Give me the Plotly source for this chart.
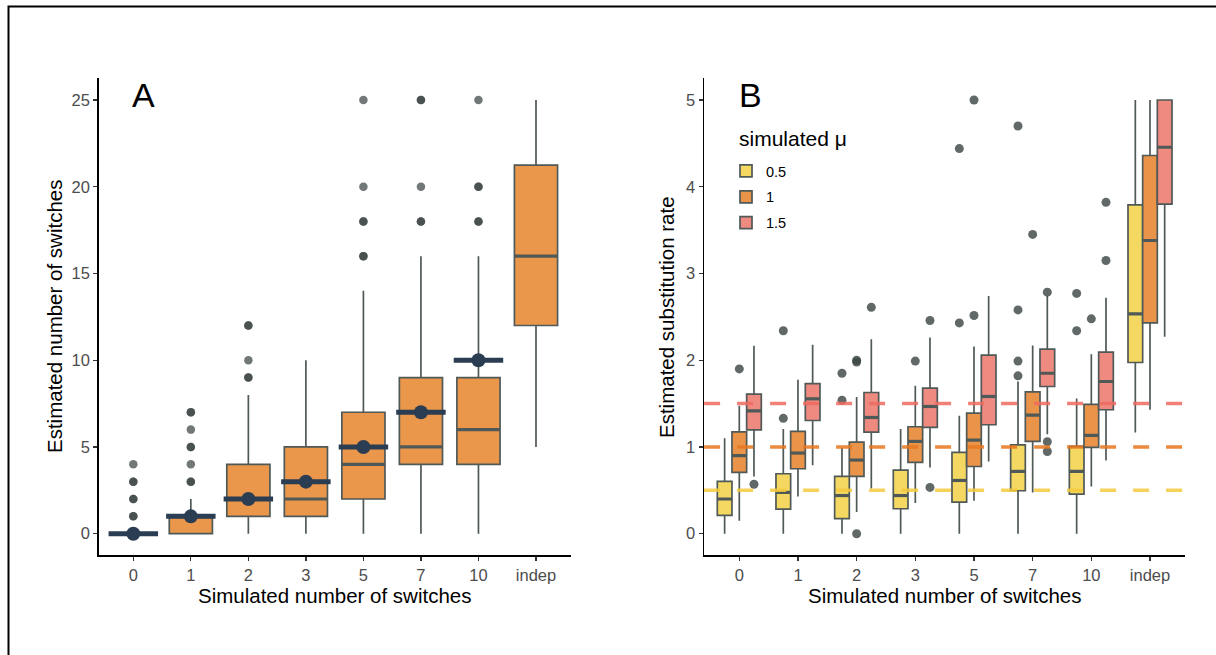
import plotly.graph_objects as go

# ---------------- data ----------------
categories = ["0", "1", "2", "3", "5", "7", "10", "indep"]
true_switches = [0, 1, 2, 3, 5, 7, 10]          # simulated number (navy marks)

# Panel A: estimated number of switches
A_q1 = [0, 0, 1, 1, 2, 4, 4, 12]
A_med = [0, 1, 2, 2, 4, 5, 6, 16]
A_q3 = [0, 1, 4, 5, 7, 9, 9, 21.25]
A_lo = [0, 0, 0, 0, 0, 0, 0, 5]
A_hi = [0, 2, 8, 10, 14, 16, 16, 25]
A_out_cat = [0, 0, 0, 0, 1, 1, 1, 1, 1, 2, 2, 2, 4, 4, 4, 4, 5, 5, 5, 6, 6, 6]
A_out_val = [1, 2, 3, 4, 3, 4, 5, 6, 7, 9, 10, 12, 16, 18, 20, 25, 18, 20, 25, 18, 20, 25]
A_out_n = [2, 2, 2, 1, 2, 1, 2, 1, 2, 2, 1, 2, 2, 2, 1, 1, 2, 1, 2, 2, 2, 1]

# Panel B: estimated substitution rate, by simulated mu
mu_labels = ["0.5", "1", "1.5"]
B_q1 = [
    [0.211, 0.284, 0.173, 0.288, 0.365, 0.495, 0.457, 1.974],
    [0.706, 0.749, 0.660, 0.822, 0.775, 1.064, 0.995, 2.431],
    [1.198, 1.305, 1.170, 1.225, 1.256, 1.697, 1.429, 3.800],
]
B_med = [
    [0.400, 0.476, 0.440, 0.440, 0.614, 0.718, 0.718, 2.535],
    [0.900, 0.930, 0.849, 1.064, 1.079, 1.367, 1.133, 3.380],
    [1.417, 1.555, 1.340, 1.467, 1.582, 1.850, 1.755, 4.455],
]
B_q3 = [
    [0.603, 0.691, 0.660, 0.733, 0.937, 1.025, 1.006, 3.790],
    [1.175, 1.179, 1.056, 1.233, 1.390, 1.636, 1.490, 4.360],
    [1.610, 1.730, 1.628, 1.678, 2.058, 2.128, 2.093, 5.000],
]
B_lo = [
    [0.000, 0.000, 0.000, 0.000, 0.000, 0.000, 0.000, 1.167],
    [0.150, 0.430, 0.250, 0.353, 0.380, 0.476, 0.545, 1.430],
    [0.660, 0.790, 0.520, 0.764, 0.833, 1.148, 0.845, 2.270],
]
B_hi = [
    [1.100, 1.206, 0.987, 1.206, 1.360, 1.755, 1.560, 5.000],
    [1.475, 1.774, 1.575, 1.705, 2.158, 2.170, 2.070, 5.000],
    [2.166, 2.177, 2.243, 2.262, 2.740, 2.740, 2.720, 5.000],
]
B_out_cat = [
    [1, 1, 2, 2, 4, 4, 5, 5, 5, 5, 6, 6],
    [0, 2, 2, 2, 3, 4, 4, 5, 6],
    [0, 2, 3, 3, 5, 5, 5, 6, 6],
]
B_out_val = [
    [1.33, 2.34, 1.54, 1.85, 2.43, 4.44, 1.82, 1.99, 2.58, 4.70, 2.34, 2.77],
    [1.90, 1.98, 2.00, 0.00, 1.99, 2.515, 5.00, 3.45, 2.477],
    [0.57, 2.61, 2.458, 0.534, 2.785, 1.06, 0.948, 3.15, 3.82],
]
true_mu = [0.5, 1.0, 1.5]

# ---------------- styles ----------------
W, H = 1216, 655
FONT = "Liberation Sans, Arial, Helvetica, sans-serif"
EDGE = "#4f5957"
ORANGE = "#ea964b"
NAVY = "#2b3d52"
B_FILL = ["#f5d862", "#ea944a", "#ef8a80"]
B_LINE = ["#f5cb3e", "#e8771f", "#ef6b61"]
B_OFFS = [-0.25, 0.0, 0.25]
BW = 0.25
AW = 0.75

fig = go.Figure()

xpos = list(range(len(categories)))

# ---- Panel A ----
fig.add_trace(go.Box(
    x=xpos, q1=A_q1, median=A_med, q3=A_q3, lowerfence=A_lo, upperfence=A_hi,
    width=AW, fillcolor=ORANGE, line=dict(color=EDGE, width=1.7),
    whiskerwidth=0, boxpoints=False, showlegend=False, hoverinfo="skip",
    xaxis="x", yaxis="y"))

mx, my = [], []
for i, m in enumerate(A_med):
    mx += [i - AW / 2, i + AW / 2, None]
    my += [m, m, None]
fig.add_trace(go.Scatter(x=mx, y=my, mode="lines", line=dict(color=EDGE, width=3.2),
                         showlegend=False, hoverinfo="skip", xaxis="x", yaxis="y"))

ox, oy = [], []
for c, v, n in zip(A_out_cat, A_out_val, A_out_n):
    ox += [c] * n
    oy += [v] * n
fig.add_trace(go.Scatter(x=ox, y=oy, mode="markers",
                         marker=dict(size=8.5, color="rgba(58,68,66,0.72)", line=dict(width=0)),
                         showlegend=False, hoverinfo="skip", xaxis="x", yaxis="y"))

sx, sy = [], []
for i, t in enumerate(true_switches):
    sx += [i - 0.43, i + 0.43, None]
    sy += [t, t, None]
fig.add_trace(go.Scatter(x=sx, y=sy, mode="lines", line=dict(color=NAVY, width=5),
                         showlegend=False, hoverinfo="skip", xaxis="x", yaxis="y"))
fig.add_trace(go.Scatter(x=xpos[:len(true_switches)], y=true_switches, mode="markers",
                         marker=dict(size=14, color=NAVY, line=dict(width=0)),
                         showlegend=False, hoverinfo="skip", xaxis="x", yaxis="y"))

# ---- Panel B ----
for g in range(3):
    px = [i + B_OFFS[g] for i in xpos]
    fig.add_trace(go.Box(
        x=px, q1=B_q1[g], median=B_med[g], q3=B_q3[g], lowerfence=B_lo[g], upperfence=B_hi[g],
        width=BW, fillcolor=B_FILL[g], line=dict(color=EDGE, width=1.7),
        whiskerwidth=0, boxpoints=False, name=mu_labels[g], legendgroup=mu_labels[g],
        showlegend=True, hoverinfo="skip", xaxis="x2", yaxis="y2"))
for g in range(3):
    px = [i + B_OFFS[g] for i in xpos]
    mx, my = [], []
    for p, m in zip(px, B_med[g]):
        mx += [p - BW / 2, p + BW / 2, None]
        my += [m, m, None]
    fig.add_trace(go.Scatter(x=mx, y=my, mode="lines", line=dict(color=EDGE, width=3.2),
                             showlegend=False, hoverinfo="skip", xaxis="x2", yaxis="y2"))
for g in range(3):
    fig.add_trace(go.Scatter(
        x=[c + B_OFFS[g] for c in B_out_cat[g]], y=B_out_val[g], mode="markers",
        marker=dict(size=9, color="rgba(58,68,66,0.80)", line=dict(width=0)),
        showlegend=False, hoverinfo="skip", xaxis="x2", yaxis="y2"))

shapes = []
for g in range(3):
    shapes.append(dict(type="line", xref="x2 domain", yref="y2", x0=0, x1=1,
                       y0=true_mu[g], y1=true_mu[g], layer="above", opacity=0.85,
                       line=dict(color=B_LINE[g], width=3.5, dash="16px,17px")))
# outer frame
shapes.append(dict(type="rect", xref="paper", yref="paper", x0=8.5 / W, x1=1.2,
                   y0=-0.2, y1=1 - 6.5 / H, line=dict(color="black", width=2),
                   fillcolor="rgba(0,0,0,0)", layer="above"))

ydom = [1 - 555.4 / H, 1 - 78.3 / H]
axis_common = dict(showline=True, linecolor="black", linewidth=1.6, ticks="outside",
                   ticklen=4, tickwidth=1.3, tickcolor="#333333", showgrid=False,
                   zeroline=False, tickfont=dict(family=FONT, size=16.5, color="#4d4d4d"),
                   fixedrange=True)

fig.update_layout(
    width=W, height=H, margin=dict(l=0, r=0, t=0, b=0, autoexpand=False),
    paper_bgcolor="white", plot_bgcolor="white", template=None,
    font=dict(family=FONT, color="black"),
    xaxis=dict(domain=[98.8 / W, 570.5 / W], range=[-0.6, 7.6], tickvals=xpos,
               ticktext=categories, anchor="y", **axis_common),
    yaxis=dict(domain=ydom, range=[-1.25, 26.25], tickvals=[0, 5, 10, 15, 20, 25],
               anchor="x", **axis_common),
    xaxis2=dict(domain=[704.1 / W, 1185.2 / W], range=[-0.6, 7.6], tickvals=xpos,
                ticktext=categories, anchor="y2", **axis_common),
    yaxis2=dict(domain=ydom, range=[-0.25, 5.25], tickvals=[0, 1, 2, 3, 4, 5],
                anchor="x2", **axis_common),
    boxmode="overlay",
    shapes=shapes,
    showlegend=True,
    legend=dict(x=726 / W, y=1 - 155 / H, xanchor="left", yanchor="top",
                bgcolor="rgba(0,0,0,0)", borderwidth=0,
                font=dict(family=FONT, size=14.5, color="black"),
                tracegroupgap=4, traceorder="grouped"),
    annotations=[
        dict(text="simulated μ", x=737 / W, y=1 - 138 / H, xref="paper", yref="paper",
             showarrow=False, font=dict(family=FONT, size=21, color="black"),
             xanchor="left", yanchor="middle"),
        dict(text="A", x=143 / W, y=1 - 95 / H, xref="paper", yref="paper", showarrow=False,
             font=dict(family=FONT, size=34, color="black"), xanchor="center", yanchor="middle"),
        dict(text="B", x=750 / W, y=1 - 95 / H, xref="paper", yref="paper", showarrow=False,
             font=dict(family=FONT, size=34, color="black"), xanchor="center", yanchor="middle"),
        dict(text="Estimated number of switches", x=55 / W, y=1 - 317 / H, xref="paper",
             yref="paper", showarrow=False, textangle=-90,
             font=dict(family=FONT, size=20.5, color="black"), xanchor="center", yanchor="middle"),
        dict(text="Estimated substitution rate", x=667 / W, y=1 - 317 / H, xref="paper",
             yref="paper", showarrow=False, textangle=-90,
             font=dict(family=FONT, size=20.5, color="black"), xanchor="center", yanchor="middle"),
        dict(text="Simulated number of switches", x=334.6 / W, y=1 - 595 / H, xref="paper",
             yref="paper", showarrow=False,
             font=dict(family=FONT, size=20.5, color="black"), xanchor="center", yanchor="middle"),
        dict(text="Simulated number of switches", x=944.6 / W, y=1 - 595 / H, xref="paper",
             yref="paper", showarrow=False,
             font=dict(family=FONT, size=20.5, color="black"), xanchor="center", yanchor="middle"),
    ],
)

fig.write_html("out.html", config={"displayModeBar": False, "staticPlot": True},
               post_script="document.body.style.margin='0px';")
